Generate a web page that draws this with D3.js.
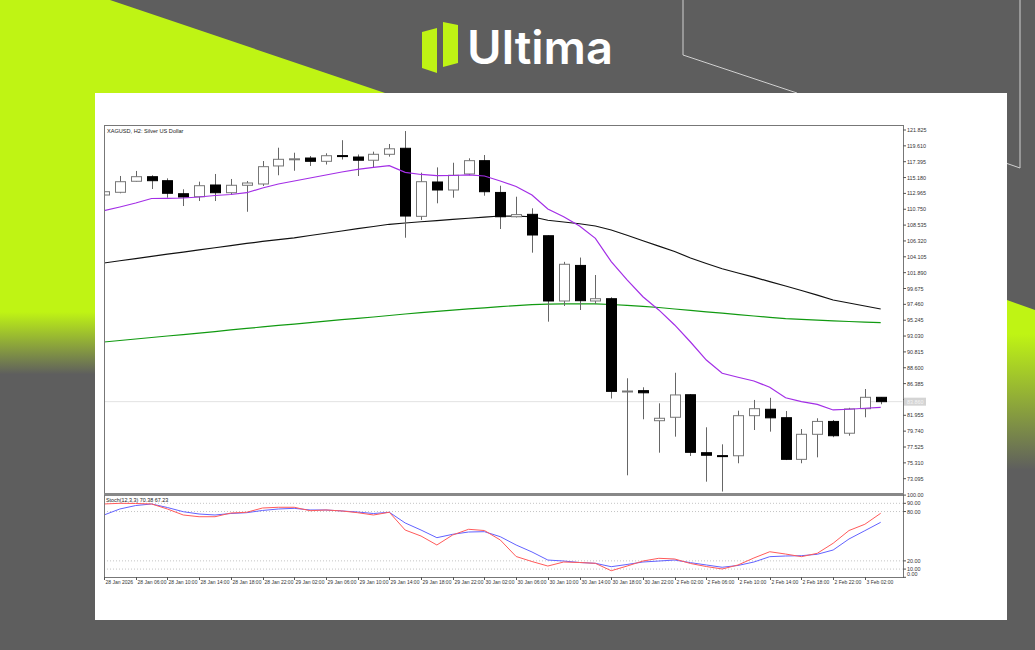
<!DOCTYPE html>
<html>
<head>
<meta charset="utf-8">
<script src="https://cdn.jsdelivr.net/npm/d3@7/dist/d3.min.js"></script>
<style>
  body { margin: 0; background: #5e5e5e; }
  svg { display: block; }
  text { font-family: "Liberation Sans", Arial, sans-serif; }
</style>
</head>
<body>
<svg id="chart" width="1035" height="650"></svg>
<script>
// H2 candles, 28 Jan 02:00 .. 3 Feb 04:00
let opens  = [112.74,113.12,114.66,115.30,114.74,112.92,112.50,114.14,113.06,114.10,114.28,116.80,117.75,117.91,117.45,118.25,118.05,117.60,118.43,119.27,
              109.76,114.56,113.44,115.68,117.54,113.10,109.70,110.04,107.05,97.93,102.90,97.93,98.25,85.30,85.40,81.20,81.68,84.83,76.73,76.32,
              76.30,81.90,82.80,81.62,75.80,79.30,81.10,79.45,82.88,84.47];
let highs  = [113.30,115.40,116.10,115.50,115.07,113.54,114.60,115.68,114.98,114.70,117.49,119.35,118.65,118.19,118.57,120.40,118.40,118.80,119.87,121.68,
              115.86,116.60,117.25,117.87,118.33,114.04,112.50,110.88,107.10,103.40,104.00,101.56,98.45,87.13,85.87,83.63,87.90,84.93,80.28,77.90,
              82.60,84.10,84.40,82.55,80.04,81.54,81.30,83.00,85.63,84.50];
let lows   = [112.60,112.98,114.60,113.58,112.36,111.20,111.90,111.90,112.74,110.40,114.00,115.50,116.13,116.80,117.00,117.70,115.40,116.60,118.10,106.77,
              109.25,111.58,112.36,115.50,112.64,107.99,109.60,104.68,95.04,97.23,96.67,97.50,84.30,73.57,81.40,76.73,78.97,76.27,72.68,71.30,
              75.25,79.90,79.67,75.70,75.25,76.08,78.90,79.10,81.68,83.50];
let closes = [113.20,114.60,115.30,114.74,112.98,112.46,114.04,113.06,114.10,114.42,116.70,117.73,117.80,117.45,118.23,118.20,117.60,118.43,119.20,109.80,
              114.60,113.44,115.50,117.54,113.20,109.70,110.00,107.15,97.93,103.06,97.97,98.25,85.30,85.35,85.10,81.54,84.80,76.78,76.37,76.28,
              81.90,82.88,81.60,75.80,79.30,81.10,79.10,82.84,84.47,83.86];

// moving averages
let maFast = [110.55,111.07,111.62,112.25,112.28,112.32,112.46,112.67,112.81,113.06,113.72,114.28,114.70,115.12,115.54,115.96,116.31,116.59,116.84,115.91,
              115.61,115.44,115.47,115.54,115.40,114.70,113.93,112.74,110.79,109.71,108.41,106.69,103.42,100.87,98.53,96.68,94.58,92.20,89.68,87.83,
              87.27,86.75,85.87,84.41,83.86,83.49,82.70,82.80,82.94,83.07];
let maMid  = [103.24,103.55,103.86,104.16,104.47,104.75,105.06,105.37,105.67,105.97,106.25,106.50,106.76,107.08,107.40,107.71,108.03,108.34,108.65,108.83,
              109.00,109.16,109.33,109.49,109.64,109.81,109.78,109.70,109.21,108.97,108.72,108.41,107.85,107.12,106.34,105.59,104.85,103.94,103.17,102.43,
              101.84,101.26,100.63,100.03,99.40,98.74,98.07,97.65,97.23,96.81];
let maSlow = [92.20,92.41,92.62,92.83,93.04,93.22,93.44,93.65,93.88,94.09,94.30,94.51,94.70,94.91,95.12,95.32,95.51,95.69,95.90,96.11,
              96.30,96.49,96.66,96.83,96.98,97.13,97.29,97.43,97.48,97.52,97.54,97.52,97.44,97.33,97.19,97.02,96.81,96.62,96.42,96.24,
              96.03,95.83,95.65,95.47,95.36,95.26,95.16,95.06,94.98,94.90];

// stochastic
let stochRed  = [89.2,90.0,89.8,89.2,83.1,75.8,73.7,73.7,78.2,79.1,84.3,85.2,85.2,81.0,81.9,80.7,78.6,75.8,79.1,57.5,
                 50.2,39.3,51.5,58.4,56.9,45.4,25.3,19.2,13.7,18.6,18.0,17.0,8.0,13.7,19.8,23.1,22.3,16.8,13.1,10.1,
                 15.0,23.5,31.1,28.3,25.1,29.2,41.4,56.9,64.5,77.9];
let stochBlue = [75.8,83.1,87.3,89.2,84.9,79.8,77.0,75.8,77.6,78.6,81.3,83.1,83.9,81.9,81.9,80.7,79.4,77.6,79.1,66.1,
                 57.5,48.2,52.3,55.1,55.5,49.4,39.3,30.8,21.0,19.8,18.0,17.0,12.9,15.6,18.6,19.8,21.0,17.8,15.0,12.2,
                 14.4,18.6,25.1,25.9,26.3,28.0,33.2,46.6,56.7,66.9];

let priceTicks = [121.825,119.610,117.395,115.180,112.965,110.750,108.535,106.320,104.105,101.890,99.675,97.460,
                  95.245,93.030,90.815,88.600,86.385,84.170,81.955,79.740,77.525,75.310,73.095];
let stochTicks = [100, 90, 80, 20, 10, 0];
let stochLevels = [90, 80, 20, 10];
let timeLabels = ["28 Jan 2026","28 Jan 06:00","28 Jan 10:00","28 Jan 14:00","28 Jan 18:00","28 Jan 22:00",
                  "29 Jan 02:00","29 Jan 06:00","29 Jan 10:00","29 Jan 14:00","29 Jan 18:00","29 Jan 22:00",
                  "30 Jan 02:00","30 Jan 06:00","30 Jan 10:00","30 Jan 14:00","30 Jan 18:00","30 Jan 22:00",
                  "2 Feb 02:00","2 Feb 06:00","2 Feb 10:00","2 Feb 14:00","2 Feb 18:00","2 Feb 22:00","3 Feb 02:00"];
let lastPrice = 83.86;

let svg = d3.select("#chart");
let lime = "#bff414";

// ---- background decoration
let defs = svg.append("defs");
let gl = defs.append("linearGradient").attr("id", "leftFade").attr("x1", 0).attr("y1", 0).attr("x2", 0).attr("y2", 1);
gl.append("stop").attr("offset", "0.6").attr("stop-color", lime);
gl.append("stop").attr("offset", "0.72").attr("stop-color", "#5e5e5e");
let gr = defs.append("linearGradient").attr("id", "rightFade").attr("x1", 0).attr("y1", 0).attr("x2", 0).attr("y2", 1);
gr.append("stop").attr("offset", "0.2").attr("stop-color", lime);
gr.append("stop").attr("offset", "1").attr("stop-color", "#5e5e5e");

svg.append("rect").attr("width", 1035).attr("height", 650).attr("fill", "#5e5e5e");
svg.append("polygon")
    .attr("points", "0,0 110,0 385,93 95,93 95,520 0,520")
    .attr("fill", "url(#leftFade)");
svg.append("polygon")
    .attr("points", "1007,300 1035,310 1035,470 1007,470")
    .attr("fill", "url(#rightFade)");

svg.append("polyline")
    .attr("points", "683,0 683,55 797,93")
    .attr("fill", "none").attr("stroke", "#d0d0d0").attr("stroke-width", 1);
svg.append("polyline")
    .attr("points", "1020,0 1020,168 997,160")
    .attr("fill", "none").attr("stroke", "#d0d0d0").attr("stroke-width", 1);

// logo
svg.append("polygon").attr("points", "422,32 437,28 437,73 422,68").attr("fill", lime);
svg.append("polygon").attr("points", "443,22 458,25 458,63 443,67").attr("fill", lime);
svg.append("text")
    .attr("x", 467).attr("y", 64)
    .attr("textLength", 146).attr("lengthAdjust", "spacingAndGlyphs")
    .style("font-family", "Inter, 'Noto Sans', sans-serif")
    .style("font-weight", 600).style("font-size", "46px")
    .attr("fill", "#ffffff")
    .text("Ultima");

// white card
svg.append("rect").attr("x", 95).attr("y", 93).attr("width", 912).attr("height", 527).attr("fill", "#ffffff");

// ---- scales
let left = 104, right = 903;
let x = d3.scaleLinear().domain([0, 49]).range([104, 880.7]);
let y = d3.scaleLinear().domain([73.095, 121.825]).range([478.7, 130]);
let ys = d3.scaleLinear().domain([0, 100]).range([577.3, 495.1]);

defs.append("clipPath").attr("id", "mainClip")
    .append("rect").attr("x", left + 0.5).attr("y", 126).attr("width", right - left - 1).attr("height", 367);
defs.append("clipPath").attr("id", "stochClip")
    .append("rect").attr("x", left + 0.5).attr("y", 495).attr("width", right - left - 1).attr("height", 82);

// ---- main panel
let main = svg.append("g").attr("clip-path", "url(#mainClip)");

main.append("line")
    .attr("x1", left).attr("x2", right)
    .attr("y1", y(lastPrice)).attr("y2", y(lastPrice))
    .attr("stroke", "#e2e2e2").attr("stroke-width", 1);

let idx = d3.range(opens.length);

function drawMA(values, color) {
    let line = d3.line().x((d, i) => x(i)).y(d => y(d));
    main.append("path").datum(values)
        .attr("d", line)
        .attr("fill", "none")
        .attr("stroke", color)
        .attr("stroke-width", 1.2);
}
drawMA(maSlow, "#119a11");
drawMA(maMid, "#111111");

let bw = 10;
let candles = main.selectAll(".candle").data(idx).enter().append("g").attr("class", "candle");
candles.append("line")
    .attr("x1", i => Math.round(x(i)) + 0.5).attr("x2", i => Math.round(x(i)) + 0.5)
    .attr("y1", i => y(highs[i])).attr("y2", i => y(lows[i]))
    .attr("stroke", "#666").attr("stroke-width", 1);
candles.append("rect")
    .attr("x", i => Math.round(x(i)) - bw / 2 + 0.5)
    .attr("y", i => y(Math.max(opens[i], closes[i])))
    .attr("width", bw)
    .attr("height", i => Math.max(1, Math.abs(y(opens[i]) - y(closes[i]))))
    .attr("fill", i => closes[i] < opens[i] ? "#000" : "#fff")
    .attr("stroke", i => closes[i] < opens[i] ? "#000" : "#777")
    .attr("stroke-width", 1);

drawMA(maFast, "#a32ee6");

// frame
svg.append("rect").attr("x", left + 0.5).attr("y", 125.5).attr("width", right - left).attr("height", 368)
    .attr("fill", "none").attr("stroke", "#777").attr("stroke-width", 1);
svg.append("line").attr("x1", left).attr("x2", right + 1).attr("y1", 494.5).attr("y2", 494.5)
    .attr("stroke", "#888").attr("stroke-width", 3);

svg.append("text").attr("x", 107).attr("y", 133)
    .style("font-size", "5.6px").attr("fill", "#222")
    .text("XAGUSD, H2:  Silver US Dollar");

// right price axis
let pa = svg.append("g");
priceTicks.forEach(function (t) {
    pa.append("line").attr("x1", right).attr("x2", right + 3).attr("y1", y(t)).attr("y2", y(t)).attr("stroke", "#555");
    // the tick hidden behind the last-price box is not labelled
    if (Math.abs(y(t) - y(lastPrice)) < 6) return;
    pa.append("text").attr("x", right + 4).attr("y", y(t) + 2)
        .style("font-size", "5.4px").attr("fill", "#333")
        .text(t.toFixed(3));
});
pa.append("rect").attr("x", right + 1).attr("y", y(lastPrice) - 4).attr("width", 22).attr("height", 8).attr("fill", "#d4d4d4");
pa.append("text").attr("x", right + 4).attr("y", y(lastPrice) + 2)
    .style("font-size", "5.4px").attr("fill", "#f4f4f4")
    .text(lastPrice.toFixed(3));

// ---- stochastic panel
let st = svg.append("g").attr("clip-path", "url(#stochClip)");
stochLevels.forEach(function (v) {
    st.append("line").attr("x1", left).attr("x2", right).attr("y1", ys(v)).attr("y2", ys(v))
        .attr("stroke", "#c4c4c4").attr("stroke-width", 1).attr("stroke-dasharray", "1,2");
});
let sline = d3.line().x((d, i) => x(i)).y(d => ys(d));
st.append("path").datum(stochBlue).attr("d", sline)
    .attr("fill", "none").attr("stroke", "#6262ff").attr("stroke-width", 1);
st.append("path").datum(stochRed).attr("d", sline)
    .attr("fill", "none").attr("stroke", "#ff5a5a").attr("stroke-width", 1);

svg.append("line").attr("x1", left + 0.5).attr("x2", left + 0.5).attr("y1", 495).attr("y2", 577).attr("stroke", "#777");
svg.append("line").attr("x1", right + 0.5).attr("x2", right + 0.5).attr("y1", 495).attr("y2", 577).attr("stroke", "#777");
svg.append("line").attr("x1", left).attr("x2", right + 1).attr("y1", 577.5).attr("y2", 577.5).attr("stroke", "#777");

svg.append("text").attr("x", 106).attr("y", 502)
    .style("font-size", "5.4px").attr("fill", "#222")
    .text("Stoch(12,3,3) 70.38 67.23");

stochTicks.forEach(function (t) {
    let ty = ys(t);
    svg.append("line").attr("x1", right).attr("x2", right + 3).attr("y1", ty).attr("y2", ty).attr("stroke", "#555");
    svg.append("text").attr("x", right + 4).attr("y", t == 0 ? ty - 1 : ty + 2)
        .style("font-size", "5.4px").attr("fill", "#333")
        .text(t.toFixed(2));
});

// time axis
timeLabels.forEach(function (lab, k) {
    let tx = Math.round(x(k * 2)) + 0.5;
    svg.append("line").attr("x1", tx).attr("x2", tx).attr("y1", 577).attr("y2", 580).attr("stroke", "#555");
    svg.append("text").attr("x", tx + 1).attr("y", 584)
        .style("font-size", "5px").attr("fill", "#333")
        .text(lab);
});
</script>
</body>
</html>
